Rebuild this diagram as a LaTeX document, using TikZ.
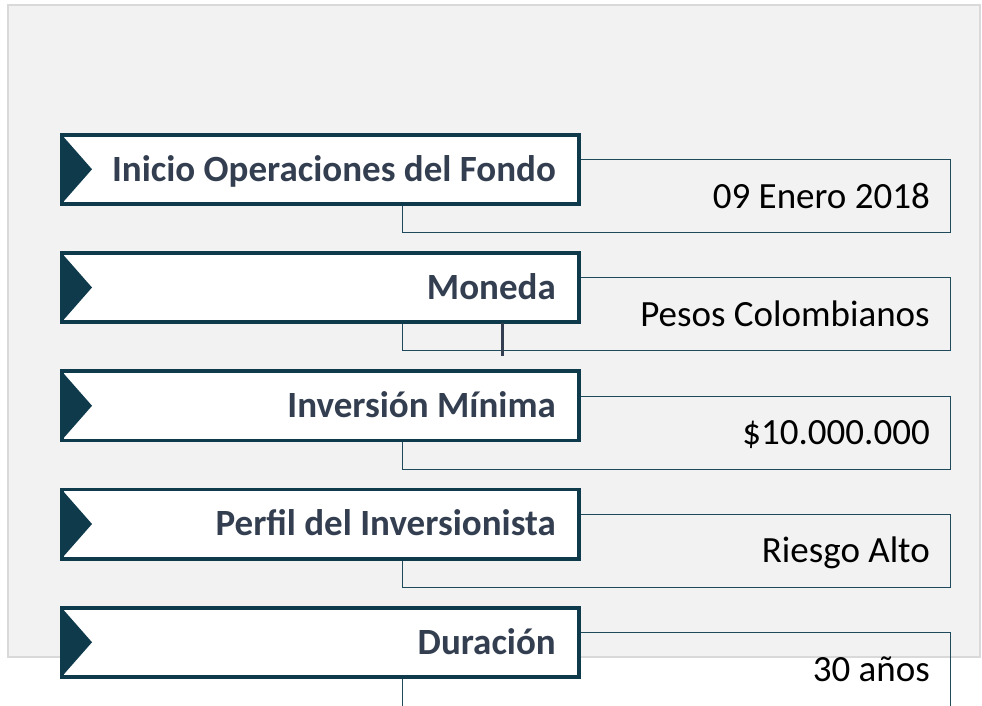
\documentclass[tikz,border=0pt]{standalone}
\usepackage{fontspec}
\setmainfont{Carlito}
\definecolor{panel}{HTML}{F2F2F2}
\definecolor{panelline}{HTML}{D9D9D9}
\definecolor{teal}{HTML}{0E3A4B}
\definecolor{slate}{HTML}{333F50}
\definecolor{thin}{HTML}{1F4A5C}
\tikzset{
  labelbox/.style={draw=teal, line width=2.5pt, fill=white, rectangle, minimum width=516pt, minimum height=68pt, inner sep=0pt, anchor=north west},
  valuebox/.style={draw=thin, line width=1.1pt, rectangle, minimum width=548pt, inner sep=0pt, anchor=north west},
  labeltext/.style={anchor=base east, inner sep=0pt, text=slate, font=\fontsize{37}{44}\selectfont\bfseries},
  valuetext/.style={anchor=base east, inner sep=0pt, text=black, font=\fontsize{37}{44}\selectfont},
  arrowtri/.style={fill=teal}
}
\begin{document}
\begin{tikzpicture}[x=1pt,y=-1pt]
\clip (0,0) rectangle (982,705);
\fill[white] (0,0) rectangle (982,705);
\draw[fill=panel, draw=panelline, line width=2pt] (8,5) rectangle (980,657);
% rows
\foreach \i/\lab/\val/\h in {1/Inicio Operaciones del Fondo/09 Enero 2018/73, 2/Moneda/Pesos Colombianos/73, 3/Inversión Mínima/\$10.000.000/73, 4/Perfil del Inversionista/Riesgo Alto/73, 5/Duración/30 años/100}{
  \pgfmathsetmacro{\yb}{134+118.25*(\i-1)}
  \pgfmathsetmacro{\yv}{159+118.25*(\i-1)}
  \node[valuebox, minimum height=\h pt] (v\i) at (402,\yv) {};
  \node[valuetext] (t\i) at (930,\yv+49) {\val};
  \node[labelbox] (b\i) at (61,\yb) {};
  \fill[arrowtri] (b\i.north west) -- ([xshift=31pt]b\i.west) -- (b\i.south west) -- cycle;
  \draw[teal, line width=2.5pt] (b\i.north west) rectangle (b\i.south east);
  \node[labeltext] (l\i) at (556,\yb+47) {\lab};
}
\coordinate (m) at (502,356);
\draw[slate, line width=3pt] (b2.south -| m) -- (m);
\end{tikzpicture}
\end{document}
